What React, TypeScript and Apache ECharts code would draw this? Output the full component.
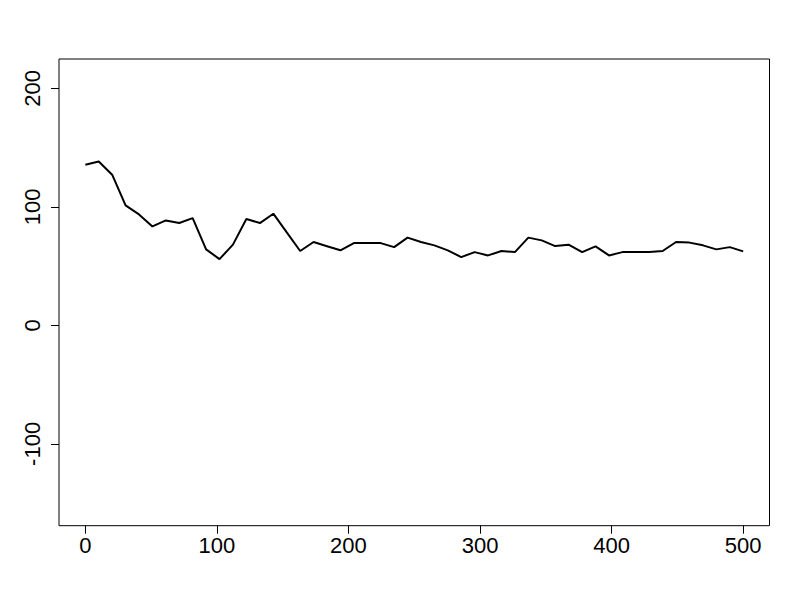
import React, { useEffect, useRef } from "react";
import * as echarts from "echarts";

const xValues = [
  0, 10.2, 20.4, 30.6, 40.8, 51.0, 61.2, 71.4, 81.6, 91.8, 102.0, 112.2, 122.4, 132.7, 142.9, 153.1,
  163.3, 173.5, 183.7, 193.9, 204.1, 214.3, 224.5, 234.7, 244.9, 255.1, 265.3, 275.5, 285.7, 295.9,
  306.1, 316.3, 326.5, 336.7, 346.9, 357.1, 367.3, 377.6, 387.8, 398.0, 408.2, 418.4, 428.6, 438.8,
  449.0, 459.2, 469.4, 479.6, 489.8, 500,
];

const yValues = [
  135.5, 138.3, 127.1, 101.2, 93.6, 83.5, 88.5, 86.3, 90.5, 64.1, 55.9, 68.1, 89.7, 86.3, 94.2, 78.4,
  62.7, 70.3, 66.8, 63.3, 69.4, 69.4, 69.4, 66.0, 74.0, 70.3, 67.5, 63.3, 57.6, 61.8, 59.0, 62.7,
  61.8, 74.0, 71.7, 66.9, 68.1, 61.8, 66.6, 59.0, 61.8, 61.8, 61.8, 62.7, 70.3, 69.8, 67.5, 64.1,
  66.0, 62.4,
];

const xTicks = [0, 100, 200, 300, 400, 500];
const yTicks = [-100, 0, 100, 200];

export default function App() {
  const ref = useRef<HTMLDivElement>(null);
  useEffect(() => {
    if (!ref.current) return;
    const chart = echarts.init(ref.current, null, { renderer: "svg" });
    const font = "Liberation Sans, Arial, sans-serif";
    chart.setOption({
      animation: false,
      backgroundColor: "#ffffff",
      grid: {
        left: 59,
        right: 30.5,
        top: 59,
        bottom: 74.3,
        show: true,
        borderColor: "#000000",
        borderWidth: 1,
        backgroundColor: "transparent",
      },
      xAxis: {
        type: "value",
        min: -20,
        max: 520,
        axisLine: { show: false, onZero: false },
        splitLine: { show: false },
        axisTick: { show: true, length: 8, lineStyle: { color: "#000", width: 1 }, customValues: xTicks },
        axisLabel: {
          customValues: xTicks,
          color: "#000",
          fontSize: 22,
          fontFamily: font,
          margin: 9,
          showMinLabel: true,
          showMaxLabel: true,
        },
      },
      yAxis: {
        type: "value",
        min: -169,
        max: 224.7,
        axisLine: { show: false, onZero: false },
        splitLine: { show: false },
        axisTick: { show: true, length: 8, lineStyle: { color: "#000", width: 1 }, customValues: yTicks },
        axisLabel: {
          customValues: yTicks,
          color: "#000",
          fontSize: 22,
          fontFamily: font,
          rotate: 90,
          margin: 16,
        },
      },
      series: [
        {
          type: "line",
          data: xValues.map((x, i) => [x, yValues[i]]),
          showSymbol: false,
          symbol: "none",
          lineStyle: { color: "#000000", width: 2 },
        },
      ],
    });
    return () => chart.dispose();
  }, []);
  return <div ref={ref} style={{ width: 800, height: 600, margin: -8 }} />;
}
